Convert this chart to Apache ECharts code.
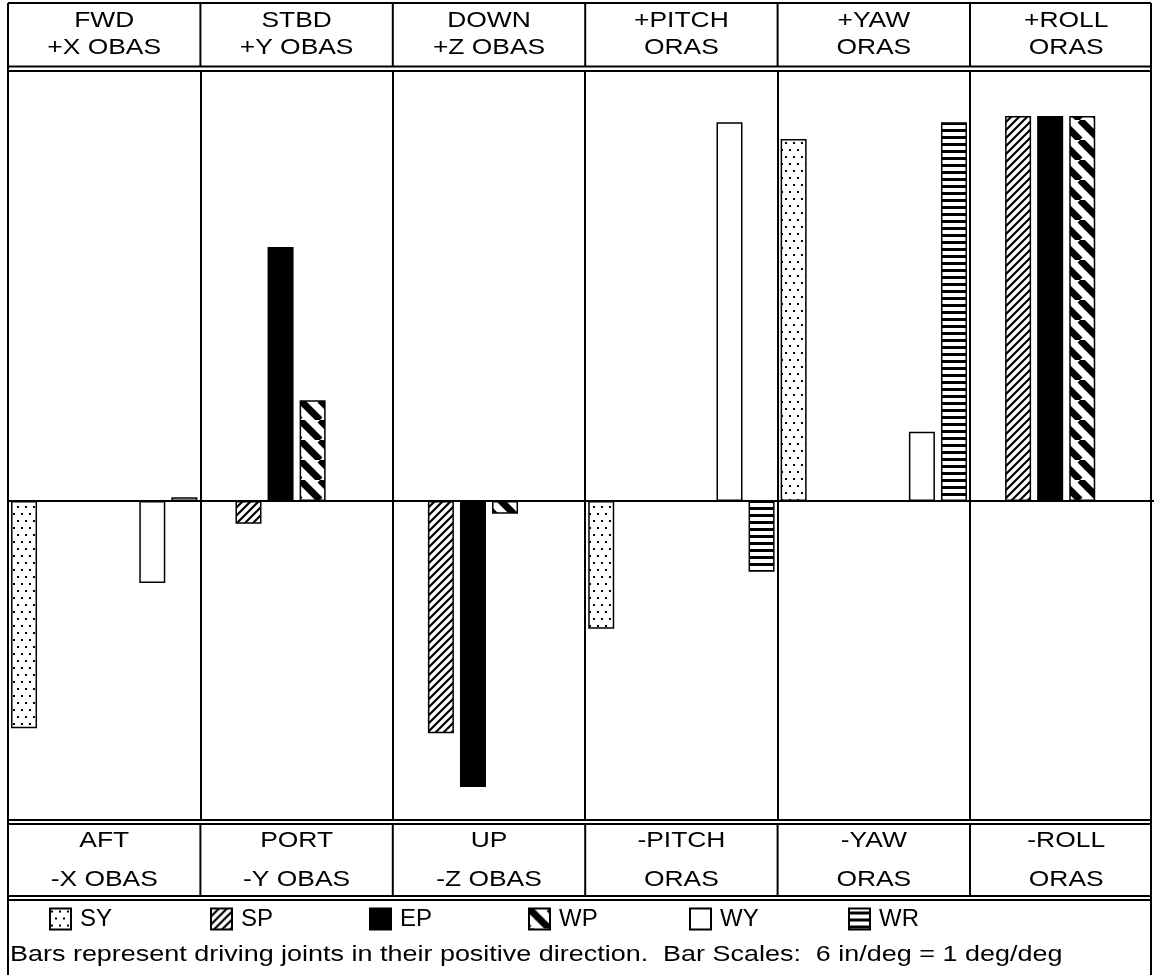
<!DOCTYPE html>
<html>
<head>
<meta charset="utf-8">
<script src="https://cdn.jsdelivr.net/npm/echarts@6/dist/echarts.min.js"></script>
<style>
html,body{margin:0;padding:0;background:#fff;overflow:hidden;}
#chart{width:1170px;height:975px;}
</style>
</head>
<body>
<div id="chart"></div>
<script>
// ---- data ----
const panelTop = ['FWD', 'STBD', 'DOWN', '+PITCH', '+YAW', '+ROLL'];
const panelTopSub = ['+X OBAS', '+Y OBAS', '+Z OBAS', 'ORAS', 'ORAS', 'ORAS'];
const panelBottom = ['AFT', 'PORT', 'UP', '-PITCH', '-YAW', '-ROLL'];
const panelBottomSub = ['-X OBAS', '-Y OBAS', '-Z OBAS', 'ORAS', 'ORAS', 'ORAS'];
const joints = ['SY', 'SP', 'EP', 'WP', 'WY', 'WR'];
// one value per panel (FWD, STBD, DOWN, PITCH, YAW, ROLL); null = no bar
const SY = [-0.590, null, null, -0.332, 0.940, null];
const SP = [null, -0.059, -0.603, null, null, 1.000];
const EP = [null, 0.660, -0.743, null, null, 1.000];
const WP = [null, 0.262, -0.033, null, null, 1.000];
const WY = [-0.213, null, null, 0.984, 0.180, null];
const WR = [0.010, null, null, -0.184, 0.984, null];
const footnote = 'Bars represent driving joints in their positive direction.  Bar Scales:  6 in/deg = 1 deg/deg';

// ---- patterns ----
function tile(w, h, draw) {
  const c = document.createElement('canvas');
  c.width = w; c.height = h;
  const g = c.getContext('2d');
  g.fillStyle = '#fff'; g.fillRect(0, 0, w, h);
  g.fillStyle = '#000'; g.strokeStyle = '#000';
  draw(g);
  return { image: c, repeat: 'repeat' };
}
const patDots = tile(8, 14, g => { g.fillRect(1, 2, 2, 2); g.fillRect(5, 9, 2, 2); });
const patSlash = tile(8, 8, g => {
  g.lineWidth = 2.2; g.beginPath();
  [[-8, 8, 8, -8], [0, 8, 8, 0], [0, 16, 16, 0]].forEach(s => { g.moveTo(s[0], s[1]); g.lineTo(s[2], s[3]); });
  g.stroke();
});
const patBack = tile(20, 20, g => {
  g.lineWidth = 7; g.beginPath();
  [-20, 0, 20].forEach(k => { g.moveTo(k, 0); g.lineTo(k + 20, 20); });
  g.stroke();
});
const patH = tile(4, 7, g => { g.fillRect(0, 3, 4, 3); });
const fills = [patDots, patSlash, '#000', patBack, '#fff', patH];
const values = [SY, SP, EP, WP, WY, WR];

// ---- layout ----
const X0 = 8, W = 192.4, XR = 1151;
const TOP = 71, BOT = 820, ZERO = 501, UNIT = 385;
const FAMILY = "'Liberation Sans', Arial, sans-serif";
const FONT = "22px " + FAMILY;

const categories = [];
panelTop.forEach((p, i) => joints.forEach(j => categories.push(p + ' ' + j)));

const series = joints.map((name, j) => ({
  name: name,
  type: 'bar',
  barWidth: 26,
  barGap: '-100%',
  animation: false,
  itemStyle: { color: fills[j], borderColor: '#000', borderWidth: 1.5 },
  data: categories.map((c, k) => (k % 6 === j && values[j][Math.floor(k / 6)] !== null) ? values[j][Math.floor(k / 6)] : '-')
}));

const graphic = [];
function line(x1, y1, x2, y2, w) {
  graphic.push({ type: 'line', silent: true, shape: { x1, y1, x2, y2 }, style: { stroke: '#000', lineWidth: w || 2 } });
}
function text(str, x, y, align, sx) {
  graphic.push({
    type: 'text', silent: true, x: x, y: y, scaleX: sx || 1.2,
    style: { text: str, font: FONT, fill: '#000', align: align || 'center', verticalAlign: 'middle',
             textAlign: align || 'center', textVerticalAlign: 'middle' }
  });
}
// outer frame
line(X0, 3, X0, 975);
line(XR, 3, XR, 975);
[3, 66.5, 71, 820, 824, 896, 900].forEach(y => line(X0, y, XR, y));
for (let i = 1; i < 6; i++) {
  const x = X0 + i * W;
  line(x, 3, x, 66.5);
  line(x, 824, x, 896);
}
for (let i = 0; i < 6; i++) {
  const cx = X0 + (i + 0.5) * W;
  text(panelTop[i], cx, 21);
  text(panelTopSub[i], cx, 48);
  text(panelBottom[i], cx, 841);
  text(panelBottomSub[i], cx, 880);
}
text(footnote, 10, 955, 'left', 1.225);

const legendLeft = [44, 205, 364, 523, 684, 843];
const legends = joints.map((name, j) => ({
  data: [name], left: legendLeft[j], top: 902, icon: 'rect',
  itemWidth: 21, itemHeight: 21, itemGap: 10, selectedMode: false,
  textStyle: { fontSize: 24, color: '#000', fontFamily: FAMILY, padding: [0, 0, 0, 4] }
}));

const chart = echarts.init(document.getElementById('chart'), null, { renderer: 'canvas' });
chart.setOption({
  animation: false,
  backgroundColor: '#fff',
  grid: { left: X0, top: TOP, width: W * 6, height: BOT - TOP, containLabel: false },
  xAxis: {
    type: 'category', data: categories, boundaryGap: true,
    axisLine: { show: true, onZero: true, lineStyle: { color: '#000', width: 2 } },
    axisTick: { show: false }, axisLabel: { show: false },
    splitLine: { show: true, interval: (idx) => idx % 6 === 0, lineStyle: { color: '#000', width: 2 } }
  },
  yAxis: {
    type: 'value', min: -(BOT - ZERO) / UNIT, max: (ZERO - TOP) / UNIT,
    axisLine: { show: false }, axisTick: { show: false }, axisLabel: { show: false }, splitLine: { show: false }
  },
  legend: legends,
  series: series,
  graphic: graphic
});
</script>
</body>
</html>
